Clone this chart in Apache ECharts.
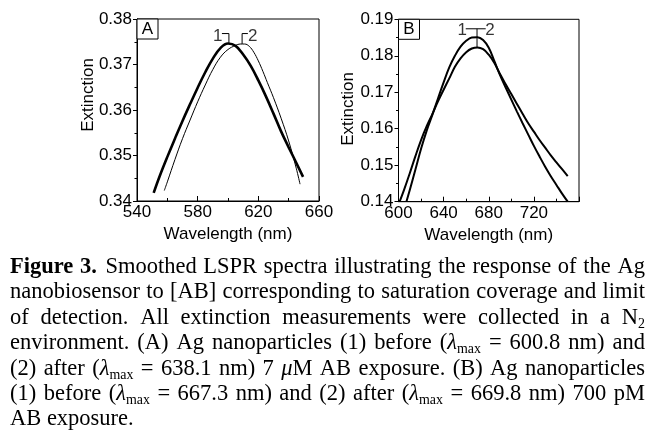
<!DOCTYPE html>
<html>
<head>
<meta charset="utf-8">
<script src="https://cdn.jsdelivr.net/npm/echarts@6/dist/echarts.min.js"></script>
<style>
  html, body { margin:0; padding:0; background:#fff; }
  #wrap { position:relative; width:652px; height:430px; overflow:hidden; }
  #chart { position:absolute; left:0; top:0; width:652px; height:430px; }
  #cap { position:absolute; left:10px; top:253px; width:635px; font-family:"Liberation Serif","Times New Roman",serif; font-size:22.5px; line-height:25.4px; color:#000; }
  .ln { display:flex; justify-content:space-between; white-space:nowrap; height:25.4px; }
  .ln.last { justify-content:flex-start; }
  sub { font-size:0.62em; vertical-align:-0.28em; line-height:0; }
</style>
</head>
<body>
<div id="wrap">
  <div id="chart"></div>
  <div id="cap"></div>
</div>
<script>
// ---------- Panel A data ----------
const waveA1 = [551,555,560,565,570,575,580,585,590,595,600,605,610,615,620,625,630,635,640,645,649.5];
const extA1  = [0.3418,0.3455,0.3497,0.3537,0.3576,0.3613,0.3649,0.3683,0.3713,0.3736,0.3746,0.3741,0.3722,0.3697,0.3665,0.3630,0.3592,0.3553,0.3518,0.3484,0.3453];
const waveA2 = [558,560,565,570,575,580,585,590,595,600,605,608,611,614,617,620,623,626,630,635,640,645,647.5];
const extA2  = [0.3423,0.3442,0.3491,0.3537,0.3578,0.3618,0.3655,0.3689,0.3716,0.3733,0.3742,0.3745,0.3745,0.3740,0.3727,0.3708,0.3685,0.3660,0.3627,0.3582,0.3532,0.3472,0.3437];
// ---------- Panel B data ----------
const waveB1 = [607,610,615,620,625,630,635,640,645,650,655,660,665,670,675,680,685,690,695,700,705,710,715,720,725,730,735,740,745,750];
const extB1  = [0.1400,0.1432,0.1488,0.1545,0.1595,0.1638,0.1683,0.1727,0.1768,0.1800,0.1825,0.1841,0.1850,0.1851,0.1843,0.1822,0.1785,0.1747,0.1713,0.1680,0.1647,0.1615,0.1584,0.1553,0.1524,0.1496,0.1470,0.1446,0.1422,0.1400];
const waveB2 = [601,605,610,615,620,625,630,635,640,645,650,655,660,665,670,675,680,685,690,695,700,705,710,715,720,725,730,735,740,745,750];
const extB2  = [0.1400,0.1433,0.1478,0.1525,0.1569,0.1607,0.1640,0.1675,0.1707,0.1738,0.1770,0.1793,0.1810,0.1820,0.1823,0.1818,0.1803,0.1780,0.1750,0.1722,0.1695,0.1668,0.1641,0.1615,0.1592,0.1569,0.1548,0.1527,0.1508,0.1489,0.1470];
// ---------- Axis ranges ----------
const axisA = { xmin:540, xmax:660, xstep:40, ymin:0.34, ymax:0.38, ystep:0.01 };
const axisB = { xmin:600, xmax:760, xstep:40, ymin:0.14, ymax:0.19, ystep:0.01 };
// ---------- Peak annotation brackets (data coords) ----------
const bracketA1 = [[596.0,0.3768],[600.6,0.3768],[600.6,0.3745]];
const bracketA2 = [[609.3,0.3745],[609.3,0.3768],[613.1,0.3768]];
const labelsA   = [[593.2,0.3763,'1'],[616.3,0.3763,'2']];
const bracketBh = [[659.6,0.1874],[677.3,0.1874]];
const bracketBv = [[669.6,0.1874],[669.6,0.1823]];
const labelsB   = [[656.4,0.1869,'1'],[681.0,0.1869,'2']];
// ---------- Caption ----------
const captionLines = [
  '<b>Figure</b> <b>3.</b> &#8202;Smoothed LSPR spectra illustrating the response of the Ag',
  'nanobiosensor to [AB] corresponding to saturation coverage and limit',
  'of detection. All extinction measurements were collected in a N<sub>2</sub>',
  'environment. (A) Ag nanoparticles (1) before (<i>λ</i><sub>max</sub> = 600.8 nm) and',
  '(2) after (<i>λ</i><sub>max</sub> = 638.1 nm) 7 <i>μ</i>M AB exposure. (B) Ag nanoparticles',
  '(1) before (<i>λ</i><sub>max</sub> = 667.3 nm) and (2) after (<i>λ</i><sub>max</sub> = 669.8 nm) 700 pM',
  'AB exposure.'
];

const cap = document.getElementById('cap');
captionLines.forEach((l, i) => {
  const d = document.createElement('div');
  d.className = 'ln' + (i === captionLines.length - 1 ? ' last' : '');
  if (i === captionLines.length - 1) { d.innerHTML = l; }
  else { d.innerHTML = l.split(' ').map(w => '<span>' + w + '</span>').join(''); }
  cap.appendChild(d);
});

const zip = (xs, ys) => xs.map((x, i) => [x, ys[i]]);
const FONT = '"Liberation Sans", Arial, sans-serif';
const black = '#000';

function xAx(idx, a) {
  return {
    type:'value', gridIndex:idx, min:a.xmin, max:a.xmax, interval:a.xstep,
    name:'Wavelength (nm)', nameLocation:'middle', nameGap:25,
    nameTextStyle:{ fontFamily:FONT, fontSize:17, color:black },
    axisLine:{ show:true, lineStyle:{ color:black, width:1 } },
    axisTick:{ show:true, inside:true, length:5, lineStyle:{ color:black } },
    minorTick:{ show:true, splitNumber:2, length:3, lineStyle:{ color:black } },
    splitLine:{ show:false },
    axisLabel:{ fontFamily:FONT, fontSize:17, color:black, margin:3, showMaxLabel: idx === 0 }
  };
}
function yAx(idx, a) {
  return {
    type:'value', gridIndex:idx, min:a.ymin, max:a.ymax, interval:a.ystep,
    axisLine:{ show:true, lineStyle:{ color:black, width:1 } },
    axisTick:{ show:true, inside:false, length:4, lineStyle:{ color:black } },
    minorTick:{ show:true, splitNumber:2, length:2.5, lineStyle:{ color:black } },
    splitLine:{ show:false },
    axisLabel:{ fontFamily:FONT, fontSize:17, color:black, margin:5, formatter:v => v.toFixed(2) }
  };
}
function curve(idx, data, w) {
  return { type:'line', xAxisIndex:idx, yAxisIndex:idx, data, smooth:0.4, showSymbol:false, symbol:'none',
    lineStyle:{ color:black, width:w }, silent:true, z:3 };
}
function bracket(idx, data) {
  return { type:'line', xAxisIndex:idx, yAxisIndex:idx, data, showSymbol:false, symbol:'none',
    lineStyle:{ color:black, width:1 }, silent:true, z:4 };
}
function labels(idx, data) {
  return { type:'scatter', xAxisIndex:idx, yAxisIndex:idx, data, symbolSize:0, silent:true, z:5,
    label:{ show:true, position:'inside', formatter:p => p.data[2], fontFamily:FONT, fontSize:17, color:black } };
}
function panelBox(x, y, txt) {
  return { type:'group', x, y, children:[
    { type:'rect', shape:{ x:0, y:0, width:21, height:20 }, style:{ fill:'#fff', stroke:black, lineWidth:1 }, z:10 },
    { type:'text', x:10.5, y:10.5, style:{ text:txt, fontFamily:FONT, fontSize:17, fill:black, align:'center', verticalAlign:'middle' }, z:11 }
  ]};
}
function yName(x, y) {
  return { type:'text', x, y, rotation:Math.PI/2,
    style:{ text:'Extinction', fontFamily:FONT, fontSize:17, fill:black, align:'center', verticalAlign:'middle' }, z:10 };
}

const chart = echarts.init(document.getElementById('chart'), null, { renderer:'canvas' });
chart.setOption({
  animation:false,
  backgroundColor:'transparent',
  grid:[
    { left:137, top:19, width:182, height:182, show:true, borderColor:black, borderWidth:1, backgroundColor:'transparent' },
    { left:398.5, top:19.3, width:180.5, height:182.4, show:true, borderColor:black, borderWidth:1, backgroundColor:'transparent' }
  ],
  xAxis:[ xAx(0, axisA), xAx(1, axisB) ],
  yAxis:[ yAx(0, axisA), yAx(1, axisB) ],
  series:[
    curve(0, zip(waveA1, extA1), 2.6),
    curve(0, zip(waveA2, extA2), 1),
    bracket(0, bracketA1),
    bracket(0, bracketA2),
    labels(0, labelsA),
    curve(1, zip(waveB1, extB1), 2),
    curve(1, zip(waveB2, extB2), 2),
    bracket(1, bracketBh),
    bracket(1, bracketBv),
    labels(1, labelsB)
  ],
  graphic:[
    panelBox(137, 19, 'A'),
    panelBox(398.5, 19.3, 'B'),
    yName(88, 95),
    yName(348.3, 109)
  ]
});
</script>
</body>
</html>
